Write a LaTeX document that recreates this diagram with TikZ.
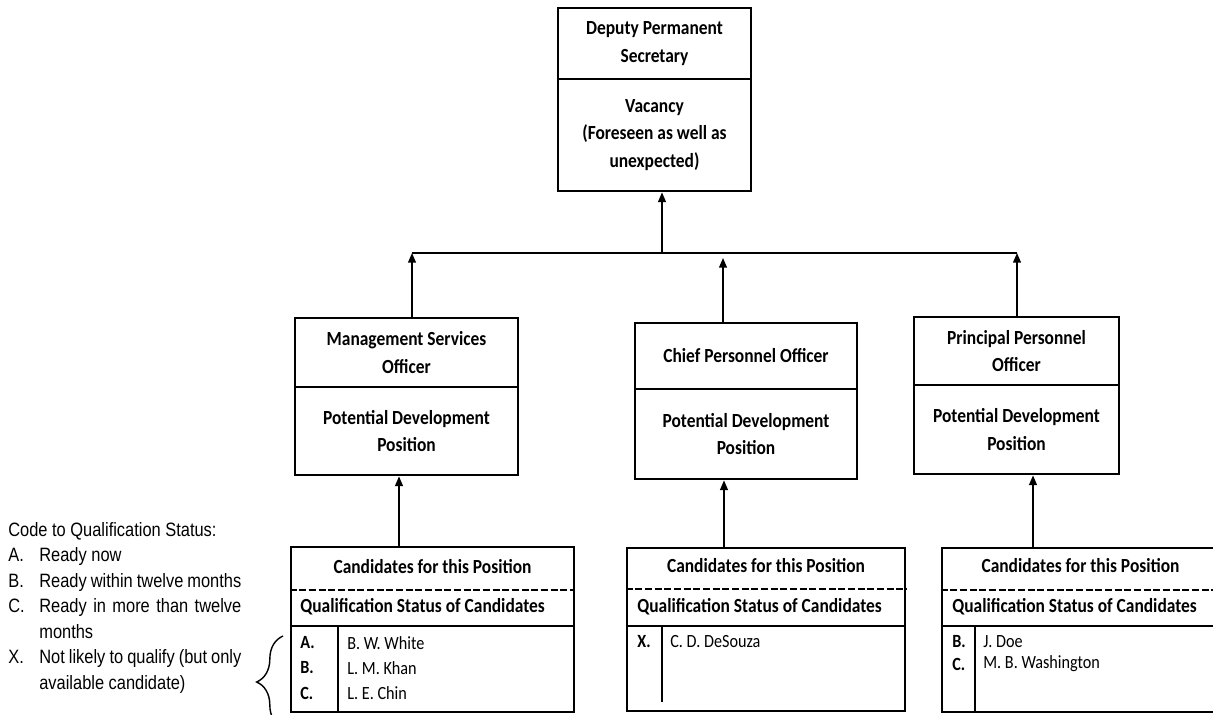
\documentclass[tikz,border=0pt]{standalone}
\usepackage{fontspec}
\usepackage{array}
\setmainfont{Carlito}[FakeStretch=0.87]
\newfontfamily\legendfont{Liberation Sans}[FakeStretch=0.85]
\usetikzlibrary{arrows.meta,decorations.pathreplacing}

\begin{document}
\begin{tikzpicture}[x=0.02cm,y=-0.02cm,
  frame/.style={draw,line width=1.6pt,inner sep=0pt},
  part/.style={frame,align=center,font=\bfseries\fontsize{11.4}{15.5}\selectfont},
  head/.style={inner sep=0pt,font=\bfseries\fontsize{11.4}{14}\selectfont},
  qual/.style={anchor=west,inner sep=0pt,font=\bfseries\fontsize{11.4}{14}\selectfont},
  code/.style={anchor=west,inner sep=0pt,font=\bfseries\fontsize{10.6}{13}\selectfont},
  cand/.style={anchor=west,inner sep=0pt,font=\fontsize{10.6}{13}\selectfont},
  rule/.style={line width=1.1pt},
  link/.style={line width=0.8pt,-{Triangle[length=5.5pt,width=4.5pt]}}]
\useasboundingbox (0,0) rectangle (1213,714);

% top position
\node[part,minimum width=3.86cm,minimum height=1.42cm] (dps) at (654.5,43.5) {Deputy Permanent\\Secretary};
\node[part,minimum width=3.86cm,minimum height=2.24cm] (vac) at (654.5,135) {Vacancy\\(Foreseen as well as\\unexpected)};

% development positions
\node[part,minimum width=4.46cm,minimum height=1.38cm] (mso) at (406.5,352.5) {Management Services\\Officer};
\node[part,minimum width=4.46cm,minimum height=1.76cm] (msopos) at (406.5,431) {Potential Development\\Position};
\node[part,minimum width=4.44cm,minimum height=1.32cm] (cpo) at (746,356) {Chief Personnel Officer};
\node[part,minimum width=4.44cm,minimum height=1.8cm] (cpopos) at (746,434) {Potential Development\\Position};
\node[part,minimum width=4.1cm,minimum height=1.36cm] (ppo) at (1016.5,351) {Principal Personnel\\Officer};
\node[part,minimum width=4.1cm,minimum height=1.78cm] (ppopos) at (1016.5,429.5) {Potential Development\\Position};

% candidate boxes
\node[frame,minimum width=5.66cm,minimum height=3.3cm] (msocand) at (432.5,629.5) {};
\node[frame,minimum width=5.56cm,minimum height=3.26cm] (cpocand) at (766,629.5) {};
\node[frame,minimum width=5.54cm,minimum height=3.28cm] (ppocand) at (1080.5,630) {};

\node[head] (msohead) at (432.5,567) {Candidates for this Position};
\node[head] (cpohead) at (766,566) {Candidates for this Position};
\node[head] (ppohead) at (1080.5,566) {Candidates for this Position};
\node[qual] (msoqual) at (300,607) {Qualification Status of Candidates};
\node[qual] (cpoqual) at (637,607) {Qualification Status of Candidates};
\node[qual] (ppoqual) at (952,607) {Qualification Status of Candidates};

\draw[rule,dash pattern=on 4pt off 1.5pt] (msocand.west |- 0,590) -- (msocand.east |- 0,590);
\draw[rule,dash pattern=on 4pt off 1.5pt] (cpocand.west |- 0,589) -- (cpocand.east |- 0,589);
\draw[rule,dash pattern=on 4pt off 1.5pt] (ppocand.west |- 0,590) -- (ppocand.east |- 0,590);
\draw[rule] (msocand.west |- 0,626) -- (msocand.east |- 0,626);
\draw[rule] (cpocand.west |- 0,626) -- (cpocand.east |- 0,626);
\draw[rule] (ppocand.west |- 0,626) -- (ppocand.east |- 0,626);
\draw[line width=0.7pt] (338,626) -- (msocand.south -| 338,0);
\draw[line width=0.7pt] (662,626) -- (662,702);
\draw[line width=0.7pt] (975,626) -- (ppocand.south -| 975,0);

\node[code] (a1) at (300,643) {A.};
\node[code] (b1) at (300,668) {B.};
\node[code] (c1) at (300,693) {C.};
\node[cand] (white) at (347,643) {B. W. White};
\node[cand] (khan) at (347,668) {L. M. Khan};
\node[cand] (chin) at (347,693) {L. E. Chin};
\node[code] (x2) at (637,642) {X.};
\node[cand] (desouza) at (670,642) {C. D. DeSouza};
\node[code] (b3) at (952,642) {B.};
\node[code] (c3) at (952,664) {C.};
\node[cand] (doe) at (983,642) {J. Doe};
\node[cand] (washington) at (983,664) {M. B. Washington};

% connectors
\coordinate (bus) at (662,253);
\coordinate (busL) at (412,253);
\coordinate (busR) at (1017,253);
\coordinate (busM) at (723,258);
\draw[line width=0.8pt] (busL) -- (busR);
\draw[link] (bus) -- (bus |- vac.south);
\draw[link] (mso.north -| busL) -- (busL);
\draw[link] (cpo.north -| busM) -- (busM);
\draw[link] (ppo.north -| busR) -- (busR);
\draw[link] (msocand.north -| 399,0) -- (msopos.south -| 399,0);
\draw[link] (cpocand.north -| 724,0) -- (cpopos.south -| 724,0);
\draw[link] (ppocand.north -| 1033,0) -- (ppopos.south -| 1033,0);

% legend
\node[anchor=north west,inner sep=0pt,font=\legendfont\fontsize{11}{14.5}\selectfont] (legend) at (8,518) {%
\begin{tabular}{@{}p{0.62cm}@{}>{\hyphenpenalty=10000\exhyphenpenalty=10000}p{4.04cm}@{}}
\multicolumn{2}{@{}l@{}}{Code to Qualification Status:}\\
A. & Ready now\\
B. & Ready within twelve months\\
C. & Ready in more than twelve months\\
X. & Not likely to qualify (but only available candidate)
\end{tabular}};
\coordinate (braceTop) at (283,636);
\coordinate (braceBot) at (283,728);
\draw[line width=0.8pt,decorate,decoration={brace,amplitude=15pt}] (braceBot) -- (braceTop);
\end{tikzpicture}
\end{document}
